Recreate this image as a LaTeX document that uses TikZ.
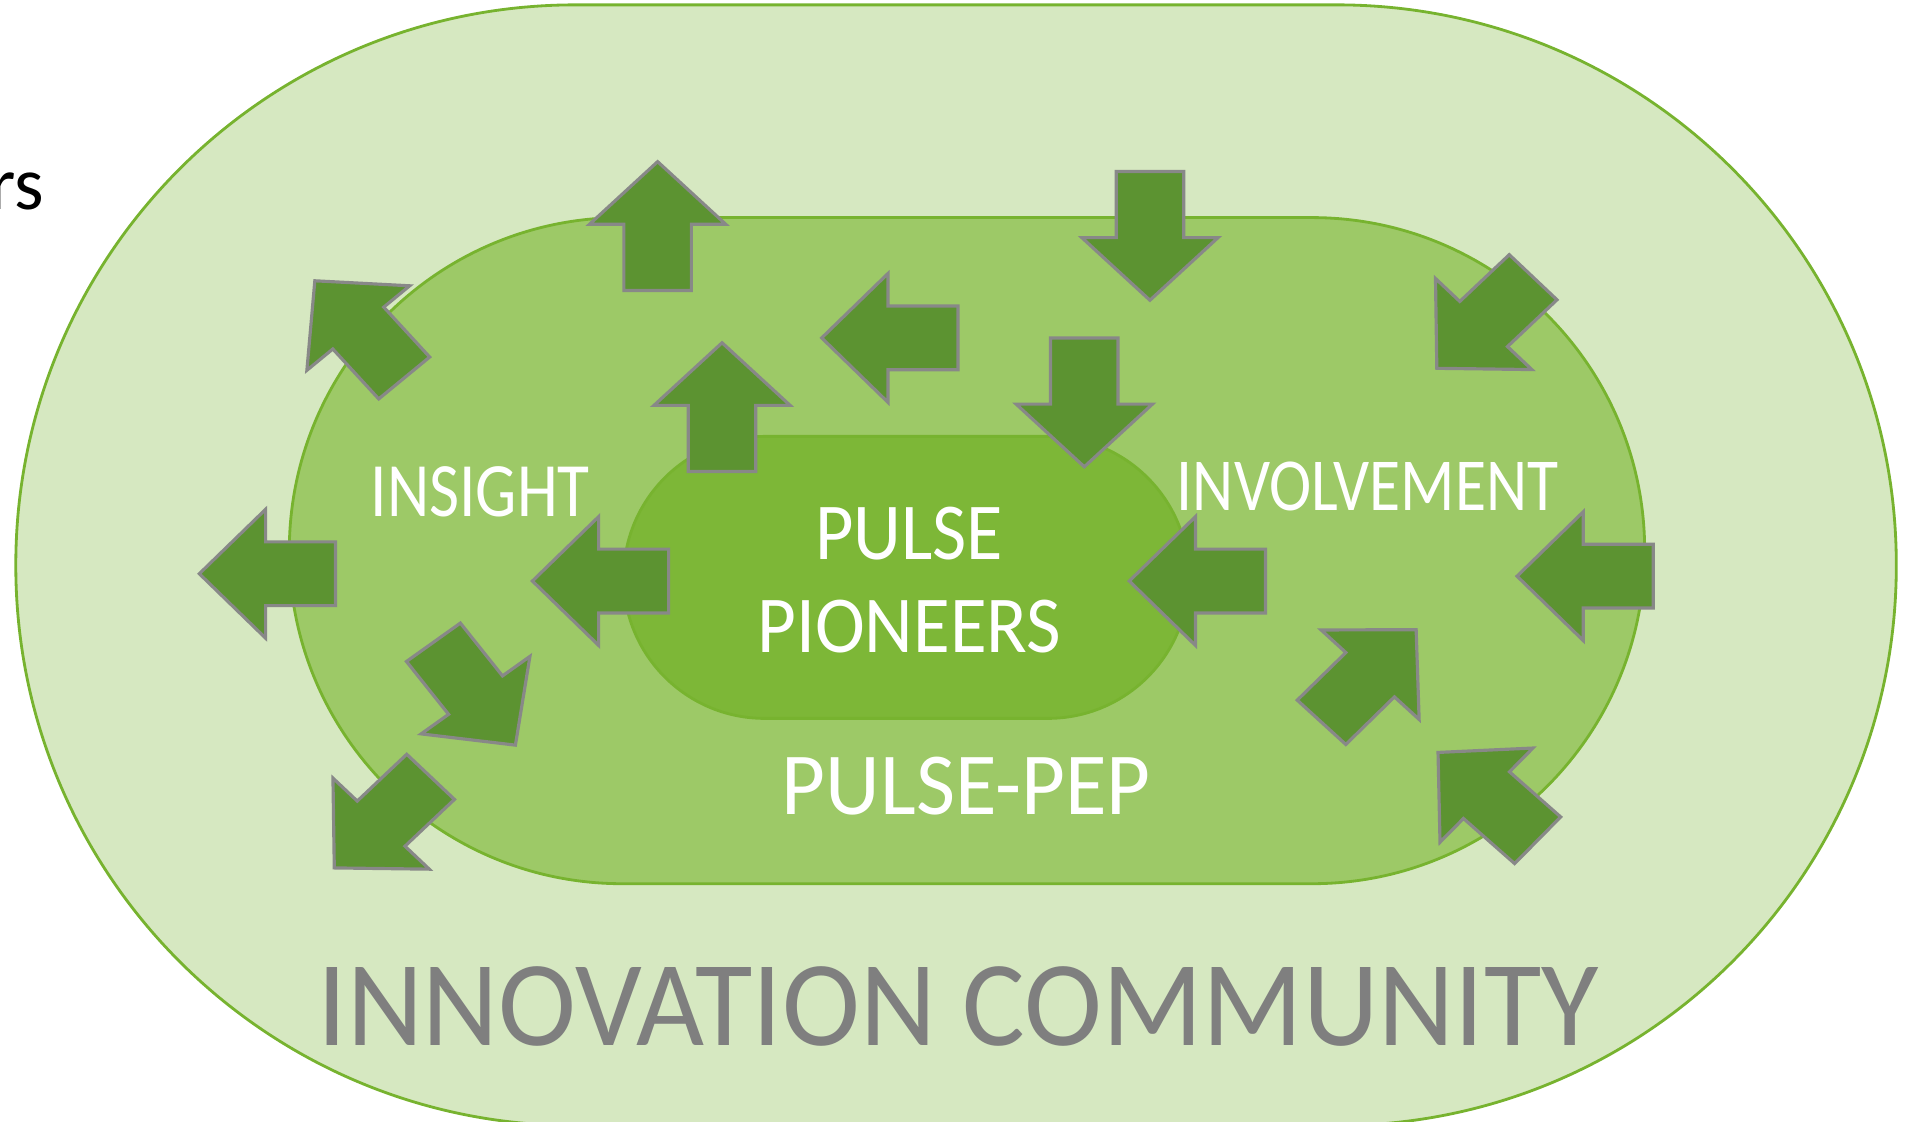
\documentclass[tikz,border=0pt]{standalone}
\usepackage{fontspec}
\setmainfont{Carlito}
\definecolor{outerfill}{HTML}{D6E8C1}
\definecolor{midfill}{HTML}{9DC967}
\definecolor{innerfill}{HTML}{7DB737}
\definecolor{ringline}{HTML}{77B32F}
\definecolor{arrowfill}{HTML}{5C9331}
\definecolor{arrowline}{HTML}{888888}
\definecolor{communitytext}{HTML}{7F7F7F}
\begin{document}
\begin{tikzpicture}[x=0.012156cm, y=-0.012156cm,
	ring/.style={draw=ringline, line width=0.8pt},
	blockarrow/.style={fill=arrowfill, draw=arrowline, line width=0.9pt, line join=miter},
	whitetext/.style={text=white, inner sep=0pt, anchor=base}]
	\useasboundingbox (0,0) rectangle (1568,923);
	\clip (0,0) rectangle (1568,923);
	% three nested rings
	\draw [ring, fill=outerfill, rounded corners=5.6cm] (13,4) rectangle (1560,926);
	\draw [ring, fill=midfill, rounded corners=3.33cm] (238,179) rectangle (1353,727);
	\draw [ring, fill=innerfill, rounded corners=1.41cm] (513,359) rectangle (978,591);
	% block arrows: tip x / tip y / direction
	\foreach \tx/\ty/\ang in {541/133/90, 594/282/90, 676/278/180, 946/247/-90, 892/384/-90, 1182/303/225, 164/472/180, 438/478/180, 259/231/131, 424/613/-53, 275/714/225, 929/478/180, 1248/474/180, 1165/518/46, 1183/619/137}
		\draw [blockarrow, shift={(\tx,\ty)}, xscale=1.028, yscale=0.972, rotate=\ang] (0,0) -- (-53,54.5) -- (-53,27) -- (-109,27) -- (-109,-27) -- (-53,-27) -- (-53,-54.5) -- cycle;
	% texts
	\node (stake) [inner sep=0pt, anchor=base east, font=\fontsize{21.5}{26}\selectfont] at (37,172) {rs};
	\node (insight) [whitetext, font=\fontsize{21.9}{26}\selectfont] at (395,425) {\scalebox{0.85}[1]{INSIGHT}};
	\node (involvement) [whitetext, font=\fontsize{21.3}{26}\selectfont] at (1125,420) {\scalebox{0.85}[1]{INVOLVEMENT}};
	\node (pulse) [whitetext, font=\fontsize{23}{28}\selectfont] at (748,460) {\scalebox{0.92}[1]{PULSE}};
	\node (pioneers) [whitetext, font=\fontsize{23}{28}\selectfont] at (748,537) {\scalebox{0.93}[1]{PIONEERS}};
	\node (pep) [whitetext, font=\fontsize{25.2}{30}\selectfont] at (795,670) {\scalebox{0.96}[1]{PULSE-PEP}};
	\node (community) [inner sep=0pt, anchor=base, text=communitytext, font=\fontsize{34.6}{40}\selectfont] at (788,860) {\scalebox{0.967}[1]{INNOVATION COMMUNITY}};
\end{tikzpicture}
\end{document}
